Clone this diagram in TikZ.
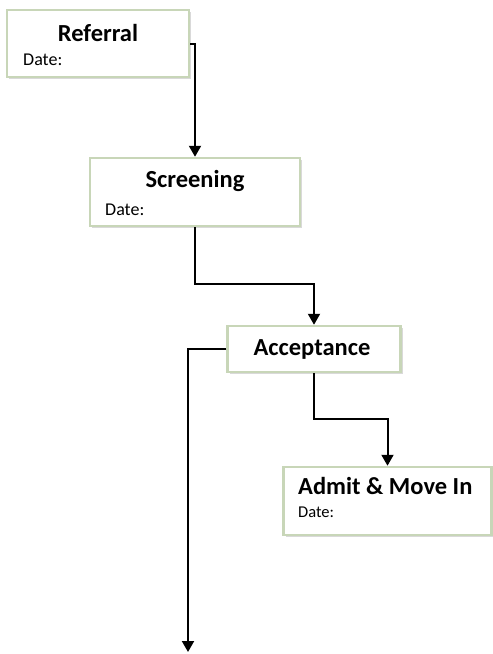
\documentclass[tikz,border=0pt]{standalone}
\usepackage{fontspec}
\setmainfont{Carlito}
\usetikzlibrary{arrows.meta,shadows}
\definecolor{boxline}{RGB}{200,214,184}

\tikzset{
  box/.style={draw=boxline, line width=2.5pt, fill=white,
    drop shadow={opacity=0.3, shadow xshift=2pt, shadow yshift=-2pt}},
  title/.style={anchor=base, inner sep=0pt, font=\fontsize{24.5}{28}\selectfont\bfseries},
  datelbl/.style={anchor=base west, inner sep=0pt, font=\fontsize{18}{21}\selectfont},
  flow/.style={line width=2pt, -{Triangle[width=12pt,length=11pt]}}
}

\begin{document}
\begin{tikzpicture}[x=1pt,y=-1pt]
\useasboundingbox (0,0) rectangle (493,654);
% boxes
\node[box, minimum width=182, minimum height=67] (ref) at (98,43.5) {};
\node[box, minimum width=210, minimum height=68] (scr) at (195,192) {};
\node[box, minimum width=173, minimum height=46] (acc) at (314,349) {};
\node[box, minimum width=208, minimum height=68] (adm) at (387.5,501) {};
% texts
\node[title] (reft) at (98,41) {Referral};
\node[datelbl] (refd) at (23,65) {Date:};
\node[title] (scrt) at (195,187) {Screening};
\node[datelbl] (scrd) at (105,215) {Date:};
\node[title] (acct) at (312,355) {Acceptance};
\node[title, anchor=base west] (admt) at (298,494) {Admit \& Move In};
\node[datelbl, font=\fontsize{16.5}{19}\selectfont] (admd) at (298,517) {Date:};
% connectors
\coordinate (out) at (188,652);
\draw[flow] (ref.east) -| (scr.north);
\draw[flow] (scr.south) -- ++(0,57) -| (acc.north);
\draw[flow] (acc.west) -| (out);
\draw[flow] (acc.south) -- ++(0,46) -| (adm.north);
\end{tikzpicture}
\end{document}
